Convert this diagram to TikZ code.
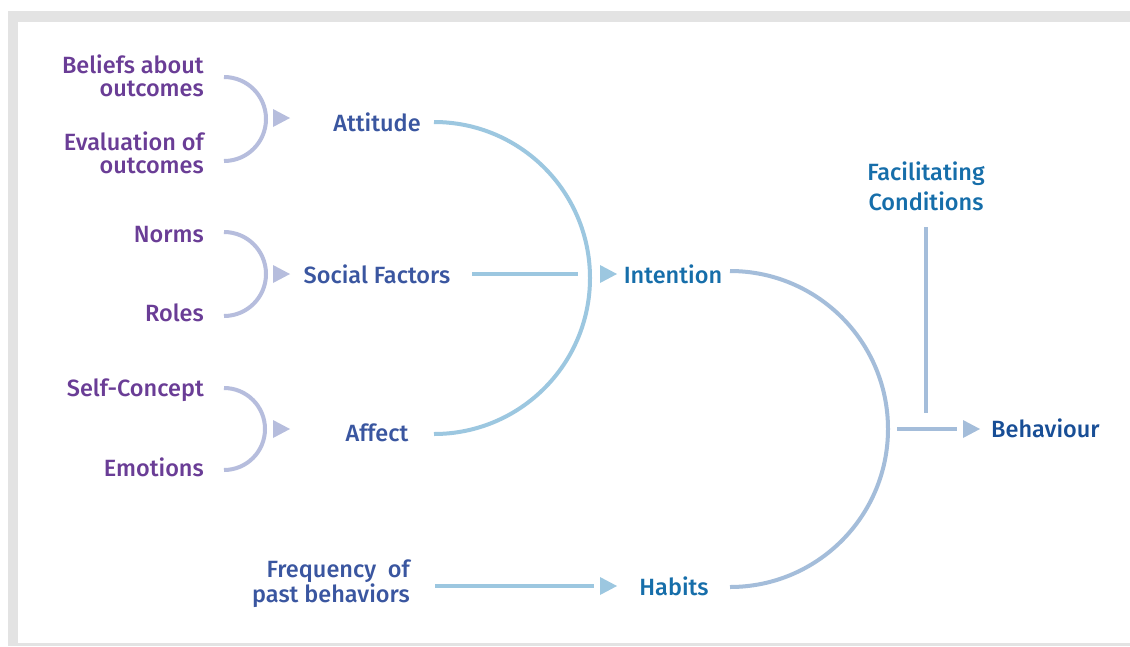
\documentclass[tikz,border=0pt]{standalone}
\usepackage{fontspec}
\setmainfont{Fira Sans}[UprightFont={* Medium}]
\usepackage{tikz}
\definecolor{txtpurple}{RGB}{106,61,150}
\definecolor{txtslate}{RGB}{58,86,160}
\definecolor{txtteal}{RGB}{22,110,170}
\definecolor{txtnavy}{RGB}{24,78,150}
\definecolor{lnlav}{RGB}{182,189,221}
\definecolor{lnsky}{RGB}{156,199,224}
\definecolor{lnsteel}{RGB}{164,189,218}
\definecolor{framegray}{RGB}{227,227,227}

\begin{document}
\begin{tikzpicture}[x=1pt,y=-1pt,
	every node/.style={font=\fontsize{23.5}{23}\selectfont, inner sep=0pt},
	src/.style={anchor=east, align=right, text=txtpurple},
	mid/.style={text=txtslate},
	res/.style={text=txtteal},
	bow/.style={line width=4pt, lnlav},
	curve/.style={line width=4pt}]
	\useasboundingbox (0,0) rectangle (1130,646);
	\fill[framegray] (8,11) rectangle (1130,646);
	\fill[white] (18,22) rectangle (1130,643);
	
	\coordinate (bow1) at (224,77);
	\coordinate (bow2) at (224,232);
	\coordinate (bow3) at (224,388);
	\coordinate (tip1) at (290,118);
	\coordinate (tip2) at (290,274);
	\coordinate (tip3) at (290,429);
	\coordinate (tip4) at (617,274);
	\coordinate (tip5) at (617,586);
	\coordinate (tip6) at (980,429);
	\coordinate (arc1) at (434,122);
	\coordinate (arc2) at (730,271);
	\coordinate (sfa) at (472,274);
	\coordinate (sfb) at (578,274);
	\coordinate (pba) at (435,586);
	\coordinate (pbb) at (594,586);
	\coordinate (fca) at (926,227);
	\coordinate (fcb) at (926,413);
	\coordinate (bha) at (897,429);
	\coordinate (bhb) at (957,429);
	
	\node (beliefs) at (204,76) [src] {Beliefs about\\outcomes};
	\node (evaluation) at (204,153) [src] {Evaluation of\\outcomes};
	\node (norms) at (204,235) [src] {Norms};
	\node (roles) at (204,313) [src] {Roles};
	\node (selfconcept) at (204,390) [src] {Self-Concept};
	\node (emotions) at (204,467) [src] {Emotions};
	
	\node (attitude) at (377,122) [mid] {Attitude};
	\node (social) at (377,274) [mid] {Social Factors};
	\node (affect) at (377,433) [mid] {Affect};
	\node (frequency) at (410,584) [mid, anchor=east, align=right] {Frequency\ \ of\\past behaviors};
	
	\node (intention) at (673,274) [res] {Intention};
	\node (habits) at (674,586) [res] {Habits};
	\node (facilitating) at (926,186) [res, align=center] {Facilitating\\[5pt]Conditions};
	\node (behaviour) at (991,428) [anchor=west, text=txtnavy] {Behaviour};
	
	\draw[bow] (bow1) arc[start angle=-90, end angle=90, radius=42];
	\draw[bow] (bow2) arc[start angle=-90, end angle=90, radius=42];
	\draw[bow] (bow3) arc[start angle=-90, end angle=90, radius=41];
	\draw[curve, lnsky] (arc1) arc[start angle=-90, end angle=90, radius=156];
	\draw[curve, lnsteel] (arc2) arc[start angle=-90, end angle=90, radius=158];
	\draw[curve, lnsky] (sfa) -- (sfb);
	\draw[curve, lnsky] (pba) -- (pbb);
	\draw[curve, lnsteel] (fca) -- (fcb);
	\draw[curve, lnsteel] (bha) -- (bhb);
	
	\fill[lnlav] (tip1) -- ++(-17,-9) -- ++(0,18) -- cycle;
	\fill[lnlav] (tip2) -- ++(-17,-9) -- ++(0,18) -- cycle;
	\fill[lnlav] (tip3) -- ++(-17,-9) -- ++(0,18) -- cycle;
	\fill[lnsky] (tip4) -- ++(-17,-9) -- ++(0,18) -- cycle;
	\fill[lnsky] (tip5) -- ++(-17,-9) -- ++(0,18) -- cycle;
	\fill[lnsteel] (tip6) -- ++(-17,-9) -- ++(0,18) -- cycle;
\end{tikzpicture}
\end{document}
